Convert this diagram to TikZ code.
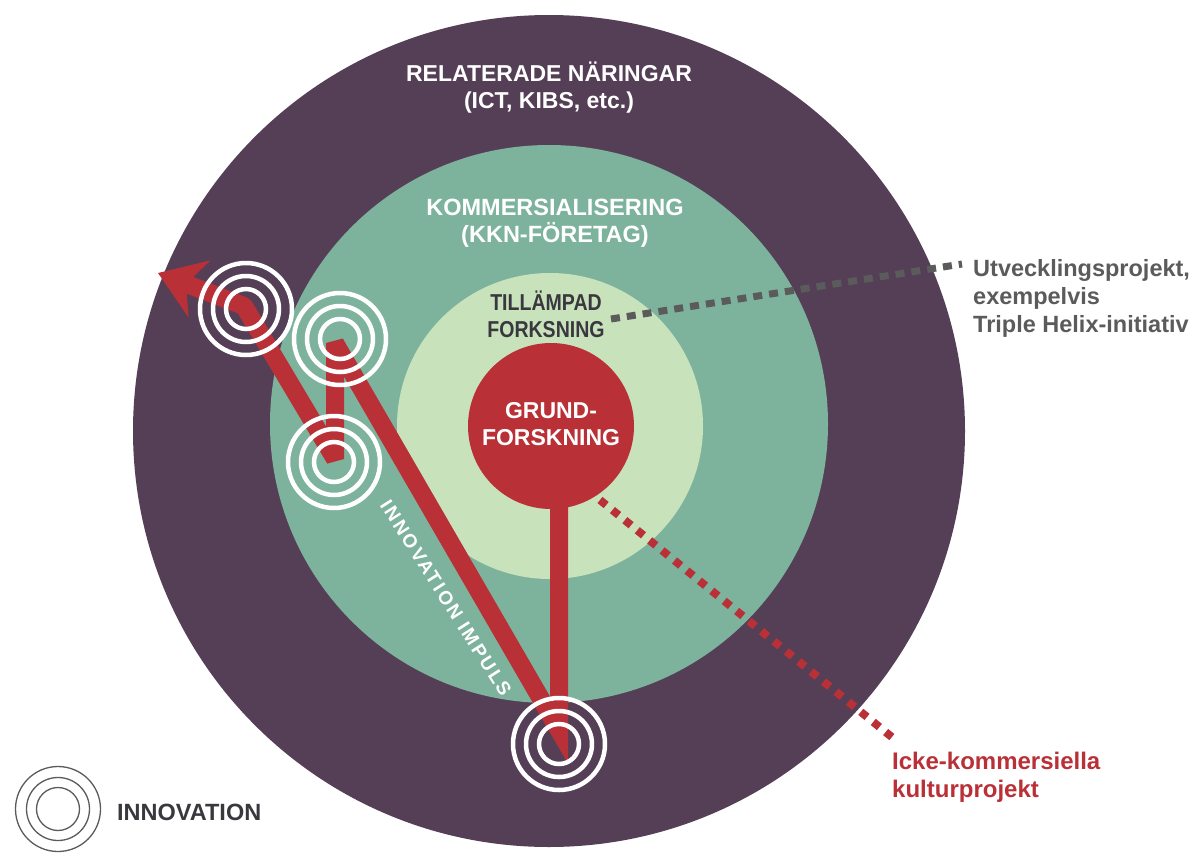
\documentclass[tikz,border=0pt]{standalone}
\usepackage{fontspec}
\setmainfont{Liberation Sans}
\usetikzlibrary{arrows.meta,calc}
\definecolor{cpurple}{RGB}{85,63,86}
\definecolor{cteal}{RGB}{125,179,157}
\definecolor{clight}{RGB}{200,227,188}
\definecolor{cred}{RGB}{185,49,55}
\definecolor{cgray}{RGB}{91,91,91}
\definecolor{cdark}{RGB}{58,56,62}
\begin{document}
\begin{tikzpicture}[x=1pt,y=-1pt,
  lbl/.style={font=\fontsize{23}{27}\selectfont\bfseries, align=center, inner sep=0pt},
  side/.style={font=\fontsize{23.5}{28}\selectfont\bfseries, align=left, inner sep=0pt, anchor=west},
  redline/.style={draw=cred, line width=18pt},
  ring/.style={draw=white, line width=4.5pt},
  legring/.style={draw=cgray, line width=1.3pt},
  dotline/.style={line width=8pt, dash pattern=on 8pt off 8pt},
  disc/.style={circle, inner sep=0pt, draw=none},
]
\fill[white] (0,0) rectangle (1199,854);
\useasboundingbox (0,0) rectangle (1199,854);

% rings of the field
\node[disc, fill=cpurple, minimum size=832pt] (outer) at (549,431) {};
\node[disc, fill=cteal, minimum size=558pt] (middle) at (549,424) {};
\node[disc, fill=clight, minimum size=306pt] (inner) at (550,426) {};

% named points
\coordinate (J) at (559,730);
\coordinate (T0) at (559,744);
\coordinate (B) at (340,339);
\coordinate (Bj) at (335,343);
\coordinate (Cj) at (335,459);
\coordinate (C) at (334,462);
\coordinate (A) at (246,309);
\coordinate (Aj) at (244,306);
\coordinate (tip) at (158,273);
\coordinate (stemtop) at (559,470);
\coordinate (kulA) at (600,500);
\coordinate (kulB) at (893,738);
\coordinate (utvA) at (611,319);
\coordinate (utvB) at (962,264);
\coordinate (leg) at (58,809);

% red connectors
\draw[redline, line join=miter] (stemtop) -- (J) -- ($(J)!30pt!(Bj)$);
\draw[redline, line join=bevel, -{Stealth[length=44pt,width=60pt,inset=14pt]}]
  (J) -- (Bj) -- (Cj) -- (Aj) -- (tip);

% basic research disc
\node[disc, fill=cred, minimum size=166pt] (grund) at (551,426) {};

% dotted connectors
\draw[dotline, draw=cred] (kulA) -- (kulB);
\draw[dotline, draw=cgray, line width=7pt, dash pattern=on 9pt off 7pt] (utvA) -- (utvB);

% innovation targets
\foreach \p in {A,B,C,T0}{
  \foreach \r in {20,33,46}{
    \draw[ring] (\p) circle[radius=\r pt];
  }
}
\foreach \r in {21.5,31.5,42.5}{
  \draw[legring] (leg) circle[radius=\r pt];
}

% labels
\node[lbl, text=white] (rel) at (549,88) {RELATERADE NÄRINGAR\\(ICT, KIBS, etc.)};
\node[lbl, text=white, font=\fontsize{23.5}{27}\selectfont\bfseries] (kom) at (555,223) {KOMMERSIALISERING\\(KKN-FÖRETAG)};
\node[lbl, text=cdark, font=\fontsize{23}{27}\selectfont\bfseries\addfontfeature{FakeStretch=0.85}] (till) at (546,314) {TILLÄMPAD\\FORKSNING};
\node[lbl, text=white] (grundtxt) at (551,424) {GRUND-\\FORSKNING};
\node[lbl, text=white, rotate=-57.6, font=\fontsize{19}{22}\selectfont\bfseries\addfontfeature{LetterSpace=12}] (imp) at (446,598) {INNOVATION IMPULS};
\node[side, text=cgray] (utv) at (973,298) {Utvecklingsprojekt,\\exempelvis\\Triple Helix-initiativ};
\node[side, text=cred, font=\fontsize{24}{28}\selectfont\bfseries] (kul) at (892,777) {Icke-kommersiella\\kulturprojekt};
\node[side, text=cdark] (legtxt) at (117,812) {INNOVATION};
\end{tikzpicture}
\end{document}
